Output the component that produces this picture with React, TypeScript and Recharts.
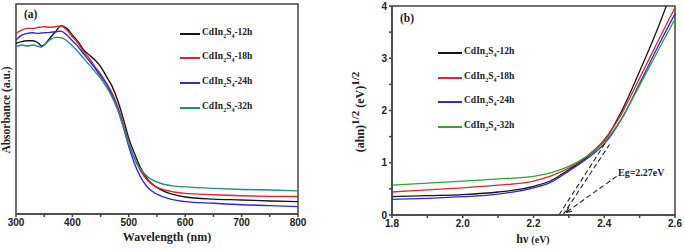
import React from "react";
import { LineChart, Line, XAxis, YAxis, ReferenceArea, ReferenceLine } from "recharts";

// ---- panel (a): UV-vis absorbance ----
const wavelengths = [300, 310, 320, 330, 340, 345, 350, 360, 370, 380, 390, 400, 410, 420, 430, 440, 450, 460, 470, 480, 490, 500, 510, 520, 530, 540, 560, 580, 600, 650, 700, 750, 800];
const abs12h = [0.813, 0.821, 0.825, 0.825, 0.813, 0.8, 0.805, 0.837, 0.868, 0.897, 0.884, 0.852, 0.821, 0.781, 0.757, 0.733, 0.702, 0.657, 0.61, 0.543, 0.456, 0.36, 0.289, 0.225, 0.178, 0.146, 0.111, 0.092, 0.081, 0.071, 0.067, 0.062, 0.059];
const abs18h = [0.86, 0.876, 0.884, 0.884, 0.889, 0.89, 0.892, 0.889, 0.892, 0.895, 0.876, 0.844, 0.813, 0.773, 0.741, 0.702, 0.667, 0.625, 0.578, 0.514, 0.432, 0.34, 0.265, 0.21, 0.17, 0.143, 0.117, 0.105, 0.098, 0.092, 0.087, 0.084, 0.083];
const abs24h = [0.829, 0.852, 0.86, 0.863, 0.86, 0.862, 0.863, 0.865, 0.868, 0.871, 0.852, 0.825, 0.797, 0.762, 0.73, 0.694, 0.657, 0.619, 0.567, 0.503, 0.416, 0.321, 0.241, 0.181, 0.138, 0.111, 0.083, 0.067, 0.059, 0.051, 0.044, 0.04, 0.035];
const abs32h = [0.797, 0.805, 0.8, 0.805, 0.797, 0.794, 0.805, 0.829, 0.841, 0.84, 0.825, 0.8, 0.773, 0.741, 0.71, 0.678, 0.646, 0.606, 0.559, 0.498, 0.419, 0.333, 0.265, 0.217, 0.186, 0.165, 0.143, 0.133, 0.129, 0.122, 0.117, 0.114, 0.11];
const wlTicks = [300, 350, 400, 450, 500, 550, 600, 650, 700, 750, 800];

// ---- panel (b): Tauc plot ----
const energies = [1.8, 1.9, 2.0, 2.1, 2.2, 2.25, 2.3, 2.35, 2.4, 2.45, 2.5, 2.55, 2.6];
const tauc12h = [0.35, 0.37, 0.39, 0.44, 0.55, 0.66, 0.87, 1.1, 1.42, 2.0, 2.75, 3.55, 4.45];
const tauc18h = [0.44, 0.48, 0.52, 0.57, 0.65, 0.75, 0.9, 1.12, 1.44, 1.95, 2.62, 3.3, 3.97];
const tauc24h = [0.3, 0.32, 0.35, 0.4, 0.52, 0.63, 0.84, 1.07, 1.36, 1.85, 2.52, 3.2, 3.85];
const tauc32h = [0.57, 0.61, 0.65, 0.69, 0.74, 0.81, 0.93, 1.12, 1.4, 1.86, 2.48, 3.12, 3.75];
const evTicks = [1.8, 1.9, 2.0, 2.1, 2.2, 2.3, 2.4, 2.5, 2.6];
const taucTicks = [0, 0.5, 1, 1.5, 2, 2.5, 3, 3.5, 4];

// tangent lines and arrow pointing at Eg
const tangents = [
  [{ x: 2.272, y: 0 }, { x: 2.405, y: 1.4 }],
  [{ x: 2.283, y: 0 }, { x: 2.415, y: 1.35 }],
  [{ x: 2.435, y: 0.74 }, { x: 2.292, y: 0.05 }],
  [{ x: 2.292, y: 0.05 }, { x: 2.309, y: 0.071 }],
  [{ x: 2.292, y: 0.05 }, { x: 2.3, y: 0.15 }],
];

const seriesA = ["12h", "18h", "24h", "32h"];
const colorsA = ["#161616", "#e8242a", "#2a2ae0", "#1f9088"];
const colorsB = ["#161616", "#e8242a", "#2a2ae0", "#2ea52e"];

const dataA = wavelengths.map((w, i) => ({ w, s0: abs12h[i], s1: abs18h[i], s2: abs24h[i], s3: abs32h[i] }));
const dataB = energies.map((e, i) => ({ e, s0: tauc12h[i], s1: tauc18h[i], s2: tauc24h[i], s3: tauc32h[i] }));

const serif = "'Liberation Serif', 'Times New Roman', serif";
const sans = "'Liberation Sans', Arial, sans-serif";
const axisColor = "#444";
const tickStyle = { fontSize: 10, fontWeight: 700, fill: "#222", fontFamily: sans };

function Name({ s }: { s: string }) {
  return (
    <span>
      CdIn<sub style={{ fontSize: 6 }}>2</sub>S<sub style={{ fontSize: 6 }}>4</sub>-{s}
    </span>
  );
}

function LegendBox({ left, tops, colors, lineW }: { left: number; tops: number[]; colors: string[]; lineW: number }) {
  return (
    <>
      {seriesA.map((s, i) => (
        <div key={s} style={{ position: "absolute", left, top: tops[i] - 8, display: "flex", alignItems: "center", height: 16, fontFamily: serif, fontWeight: 700, fontSize: 9.5, color: "#222", lineHeight: "16px", whiteSpace: "nowrap" }}>
          <div style={{ width: lineW, height: 1.5, background: colors[i], marginRight: 2 }} />
          <Name s={s} />
        </div>
      ))}
    </>
  );
}

export default function App() {
  return (
    <div style={{ position: "absolute", left: 0, top: 0, width: 685, height: 251, background: "#fff", overflow: "hidden" }}>
      {/* panel (a) */}
      <div style={{ position: "absolute", left: 0, top: 0 }}>
        <LineChart width={340} height={251} data={dataA} margin={{ top: 4, right: 42, bottom: 7, left: 16 }}>
          <XAxis dataKey="w" type="number" domain={[300, 800]} ticks={wlTicks} tickFormatter={(v: number) => (v % 100 === 0 ? String(v) : "")} stroke={axisColor} strokeWidth={1.5} tickSize={3} tick={tickStyle} height={30} interval={0} />
          <YAxis hide domain={[0, 1]} />
          <ReferenceArea x1={300} x2={800} y1={0} y2={1} fill="none" stroke={axisColor} strokeWidth={1.5} />
          {["s0", "s1", "s2", "s3"].map((k, i) => (
            <Line key={k} dataKey={k} stroke={colorsA[i]} strokeWidth={1.4} dot={false} type="monotone" isAnimationActive={false} />
          ))}
        </LineChart>
      </div>
      <div style={{ position: "absolute", left: 24, top: 8, fontFamily: serif, fontWeight: 700, fontSize: 11.5, color: "#222" }}>(a)</div>
      <LegendBox left={180} tops={[34, 58, 83, 108]} colors={colorsA} lineW={20} />
      <div style={{ position: "absolute", left: 112, top: 230, width: 110, textAlign: "center", fontFamily: serif, fontWeight: 700, fontSize: 12, color: "#222" }}>Wavelength (nm)</div>
      <div style={{ position: "absolute", left: 6, top: 110, width: 0, height: 0 }}>
        <div style={{ position: "absolute", transform: "translate(-50%, -50%) rotate(-90deg)", fontFamily: serif, fontWeight: 700, fontSize: 11.5, color: "#222", whiteSpace: "nowrap" }}>Absorbance (a.u.)</div>
      </div>

      {/* panel (b) */}
      <div style={{ position: "absolute", left: 340, top: 0 }}>
        <LineChart width={345} height={251} data={dataB} margin={{ top: 6, right: 10, bottom: 6, left: 12 }}>
          <XAxis dataKey="e" type="number" domain={[1.8, 2.6]} ticks={evTicks} tickFormatter={(v: number) => (Math.round(v * 10) % 2 === 0 ? v.toFixed(1) : "")} stroke={axisColor} strokeWidth={1.5} tickSize={3} tick={tickStyle} height={30} interval={0} />
          <YAxis type="number" domain={[0, 4]} ticks={taucTicks} tickFormatter={(v: number) => (Number.isInteger(v) ? String(v) : "")} allowDataOverflow stroke={axisColor} strokeWidth={1.5} tickSize={3} tick={tickStyle} width={40} interval={0} />
          <ReferenceArea x1={1.8} x2={2.6} y1={0} y2={4} fill="none" stroke={axisColor} strokeWidth={1.5} />
          {["s0", "s1", "s2", "s3"].map((k, i) => (
            <Line key={k} dataKey={k} stroke={colorsB[i]} strokeWidth={1.3} dot={false} type="monotone" isAnimationActive={false} />
          ))}
          {tangents.map((seg, i) => (
            <ReferenceLine key={i} segment={seg} stroke="#222" strokeWidth={1.1} strokeDasharray={i < 3 ? "5 3" : undefined} />
          ))}
        </LineChart>
      </div>
      <div style={{ position: "absolute", left: 400, top: 12, fontFamily: serif, fontWeight: 700, fontSize: 11.5, color: "#222" }}>(b)</div>
      <LegendBox left={438} tops={[53, 78, 102, 127]} colors={colorsB} lineW={24} />
      <div style={{ position: "absolute", left: 618, top: 167, fontFamily: serif, fontWeight: 700, fontSize: 10, color: "#222" }}>Eg=2.27eV</div>
      <div style={{ position: "absolute", left: 483, top: 232, width: 100, textAlign: "center", fontFamily: serif, fontWeight: 700, fontSize: 12, color: "#222" }}>
        hν <span style={{ fontSize: 10 }}>(eV)</span>
      </div>
      <div style={{ position: "absolute", left: 358, top: 112, width: 0, height: 0 }}>
        <div style={{ position: "absolute", transform: "translate(-50%, -50%) rotate(-90deg)", fontFamily: serif, fontWeight: 700, fontSize: 12, color: "#222", whiteSpace: "nowrap" }}>
          (ahn)<sup style={{ fontSize: 11 }}>1/2</sup> (eV)<sup style={{ fontSize: 11 }}>1/2</sup>
        </div>
      </div>
    </div>
  );
}
